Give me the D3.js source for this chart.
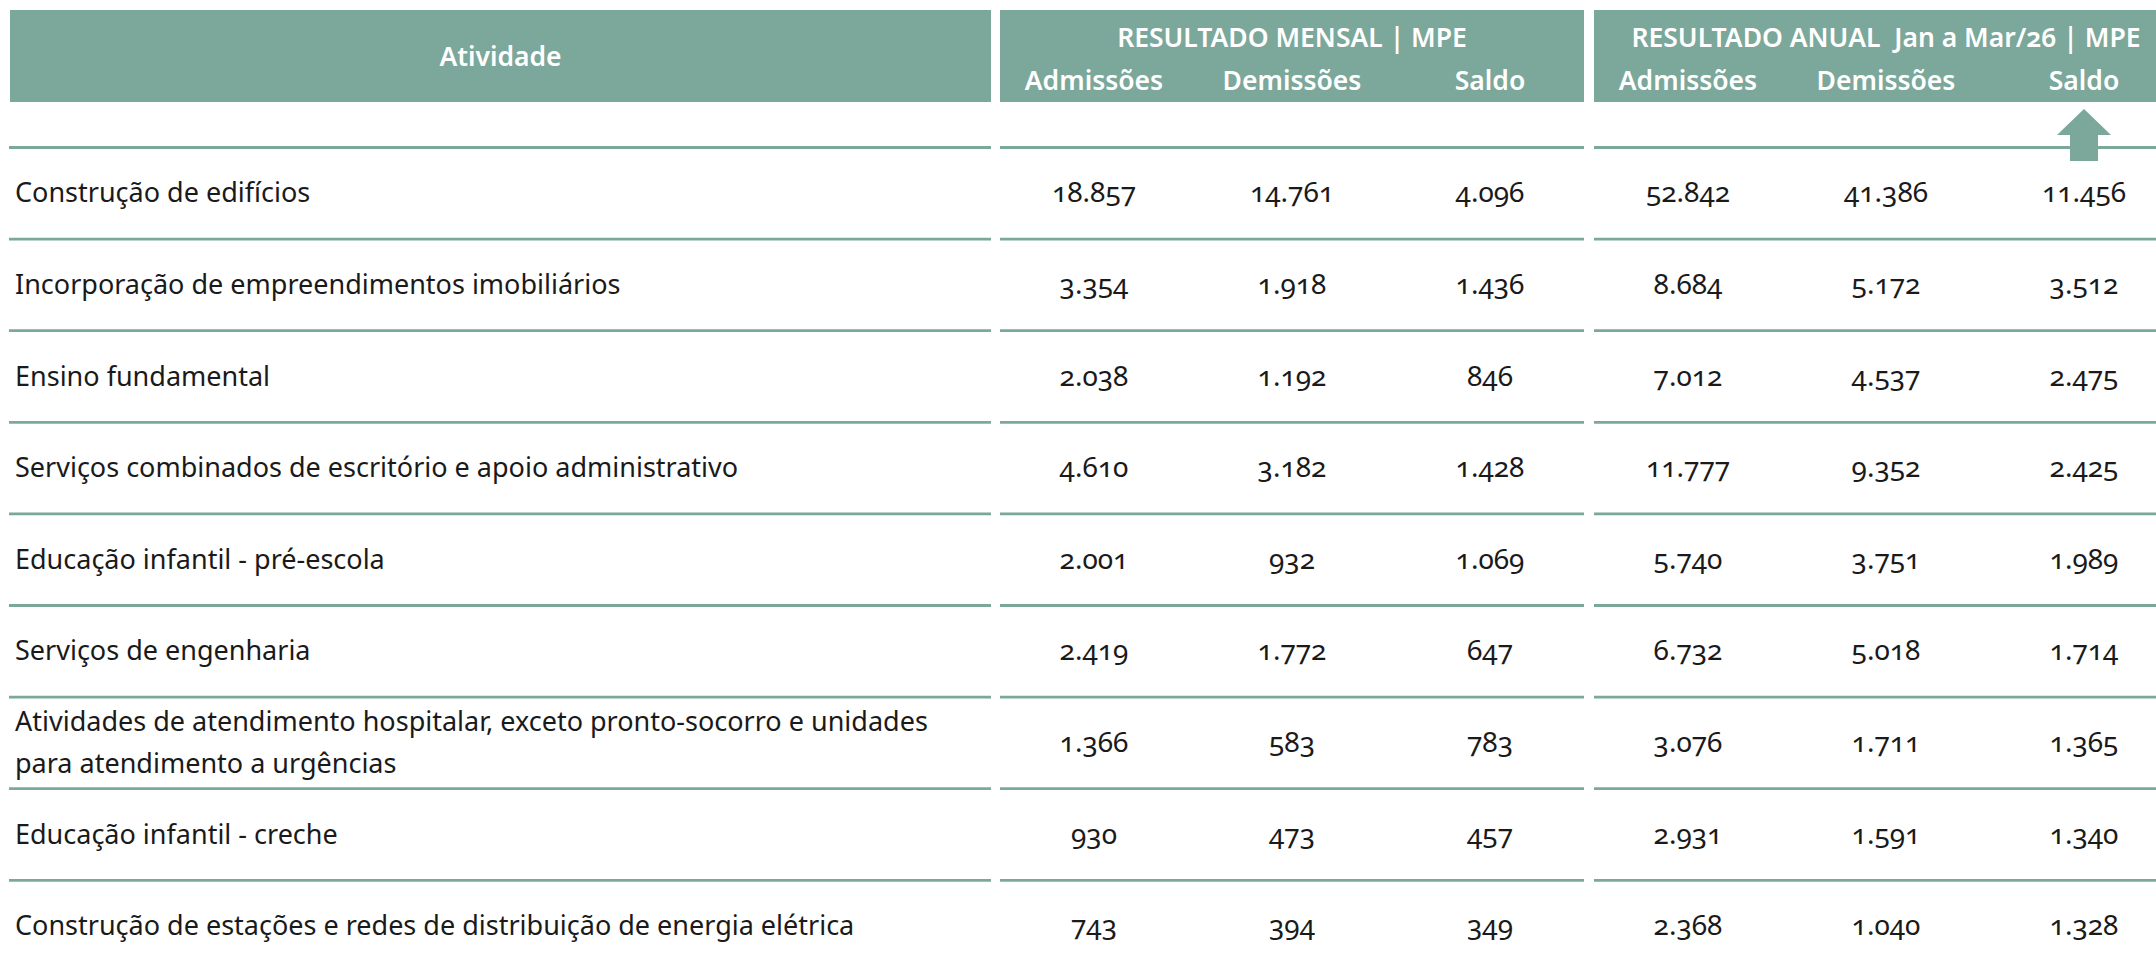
<!DOCTYPE html>
<html>
<head>
<meta charset="utf-8">
<script src="https://cdn.jsdelivr.net/npm/d3@7"></script>
<style>
  body { margin: 0; background: #fff; }
  svg text { font-family: "Noto Sans", "Open Sans", sans-serif; font-variant-numeric: oldstyle-nums; font-feature-settings: "onum" 1; }
</style>
</head>
<body>
<svg id="tabela"></svg>
<script>
var atividades = [
  'Construção de edifícios',
  'Incorporação de empreendimentos imobiliários',
  'Ensino fundamental',
  'Serviços combinados de escritório e apoio administrativo',
  'Educação infantil - pré-escola',
  'Serviços de engenharia',
  'Atividades de atendimento hospitalar, exceto pronto-socorro e unidades\npara atendimento a urgências',
  'Educação infantil - creche',
  'Construção de estações e redes de distribuição de energia elétrica'
];
var mensal_admissoes = [18857, 3354, 2038, 4610, 2001, 2419, 1366, 930, 743];
var mensal_demissoes = [14761, 1918, 1192, 3182, 932, 1772, 583, 473, 394];
var mensal_saldo     = [4096, 1436, 846, 1428, 1069, 647, 783, 457, 349];
var anual_admissoes  = [52842, 8684, 7012, 11777, 5740, 6732, 3076, 2931, 2368];
var anual_demissoes  = [41386, 5172, 4537, 9352, 3751, 5018, 1711, 1591, 1040];
var anual_saldo      = [11456, 3512, 2475, 2425, 1989, 1714, 1365, 1340, 1328];

var grupos = ['RESULTADO MENSAL | MPE', 'RESULTADO ANUAL  Jan a Mar/26 | MPE'];
var colunas = ['Admissões', 'Demissões', 'Saldo'];

var W = 2156, H = 961;
var teal = '#7ba89b';
var ink = '#1a1a1a';

// pt-BR thousands separator
var fmt = d3.formatLocale({decimal: ',', thousands: '.', grouping: [3], currency: ['R$', '']}).format(',d');

var series = [mensal_admissoes, mensal_demissoes, mensal_saldo, anual_admissoes, anual_demissoes, anual_saldo];
var col_ids = d3.range(series.length);

var svg = d3.select('#tabela').attr('width', W).attr('height', H);

var x = d3.scalePoint().domain(col_ids).range([1094, 2084]);
var y = d3.scaleBand().domain(d3.range(atividades.length)).range([147.5, 147.5 + 91.6 * atividades.length]);

// header blocks: activity column + the two result groups
var blocos = [[10, 991], [1000, 1584], [1594, W]];
svg.selectAll('.hdr')
  .data(blocos)
  .enter()
  .append('rect')
    .attr('class', 'hdr')
    .attr('x', d => d[0])
    .attr('width', d => d[1] - d[0])
    .attr('y', 10)
    .attr('height', 92)
    .style('fill', teal);

svg.append('text')
  .attr('x', (blocos[0][0] + blocos[0][1]) / 2)
  .attr('y', 66)
  .attr('text-anchor', 'middle')
  .style('font-size', '26.5px')
  .style('font-weight', 600)
  .style('fill', '#fff')
  .text('Atividade');

svg.selectAll('.grp')
  .data(grupos)
  .enter()
  .append('text')
    .attr('class', 'grp')
    .attr('x', (d, i) => x(i * 3 + 1))
    .attr('y', 47)
    .attr('text-anchor', 'middle')
    .style('font-size', '26.5px')
    .style('font-weight', 600)
    .style('fill', '#fff')
    .attr('xml:space', 'preserve')
    .text(d => d);

svg.selectAll('.sub')
  .data(col_ids)
  .enter()
  .append('text')
    .attr('class', 'sub')
    .attr('x', d => x(d))
    .attr('y', 90)
    .attr('text-anchor', 'middle')
    .style('font-size', '26.5px')
    .style('font-weight', 600)
    .style('fill', '#fff')
    .text(d => colunas[d % 3]);

// row separator lines, broken at the group gaps
var limites = y.domain().map(i => y(i));
limites.push(y.range()[1]);
var segs = [];
for (let yy of limites) {
  segs.push([9, 991, yy], [1000, 1584, yy], [1594, W, yy]);
}
svg.selectAll('.sep')
  .data(segs)
  .enter()
  .append('line')
    .attr('class', 'sep')
    .attr('x1', d => d[0])
    .attr('x2', d => d[1])
    .attr('y1', d => d[2])
    .attr('y2', d => d[2])
    .style('stroke', teal)
    .style('stroke-width', 2.8);

// up arrow above the annual saldo column
var ax = x(5);
svg.append('path')
  .attr('d', 'M' + ax + ',109 L' + (ax + 27) + ',135 L' + (ax + 14) + ',135 L' + (ax + 14) + ',161 L'
    + (ax - 14) + ',161 L' + (ax - 14) + ',135 L' + (ax - 27) + ',135 Z')
  .style('fill', teal);

// activity labels
var labels = svg.selectAll('.lbl')
  .data(atividades)
  .enter()
  .append('text')
    .attr('class', 'lbl')
    .attr('x', 15)
    .style('font-size', '27px')
    .style('fill', ink);
labels.each(function(d, i) {
  let linhas = d.split('\n');
  let cy = y(i) + y.bandwidth() / 2;
  let lh = 42;
  let t = d3.select(this);
  linhas.forEach(function(l, k) {
    t.append('tspan')
      .attr('x', 15)
      .attr('y', cy + 9 + (k - (linhas.length - 1) / 2) * lh)
      .text(l);
  });
});

// numbers
var cells = [];
series.forEach(function(s, c) {
  s.forEach(function(v, r) { cells.push({c: c, r: r, v: v}); });
});
svg.selectAll('.num')
  .data(cells)
  .enter()
  .append('text')
    .attr('class', 'num')
    .attr('x', d => x(d.c))
    .attr('y', d => y(d.r) + y.bandwidth() / 2 + 9)
    .attr('text-anchor', 'middle')
    .style('font-size', '28px')
    .style('fill', ink)
    .text(d => fmt(d.v));
</script>
</body>
</html>
